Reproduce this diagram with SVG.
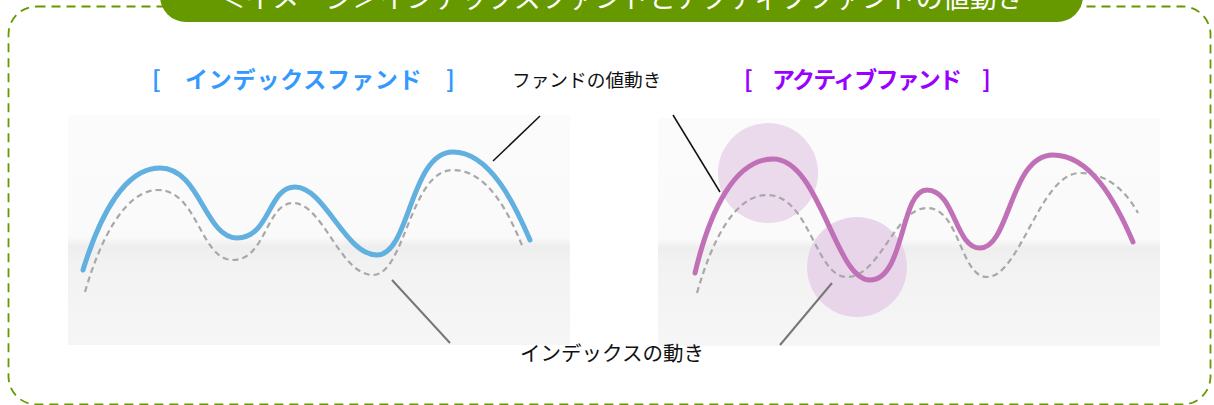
<svg xmlns="http://www.w3.org/2000/svg" width="1214" height="405" viewBox="0 0 1214 405">
  <style>
    .jp { font-family: "Noto Sans CJK JP", "Noto Sans", sans-serif; }
    .ttl { font-size: 23px; font-weight: bold; }
    .lbl { fill: #111111; }
    .dash { fill: none; stroke: #a8a8a8; stroke-width: 2.2; stroke-dasharray: 6 4; }
    .lead { fill: none; stroke: #111111; stroke-width: 1.5; }
    .leadg { fill: none; stroke: #777777; stroke-width: 2; }
  </style>
  <defs>
    <linearGradient id="panelbg" x1="0" y1="0" x2="0" y2="1">
      <stop offset="0" stop-color="#fbfbfb"/>
      <stop offset="0.53" stop-color="#fafafa"/>
      <stop offset="0.57" stop-color="#eeeeee"/>
      <stop offset="0.64" stop-color="#f2f2f2"/>
      <stop offset="1" stop-color="#f6f6f6"/>
    </linearGradient>
  </defs>
  <rect width="1214" height="405" fill="#ffffff"/>

  <g id="frame">
    <rect x="8.5" y="6.5" width="1202" height="398" rx="28" ry="28" fill="none" stroke="#669900" stroke-width="1.8" stroke-dasharray="9 6"/>
  </g>

  <g id="title">
    <rect x="160" y="-40" width="923" height="62" rx="26" ry="26" fill="#669900"/>
    <text class="jp" x="621" y="8" font-size="27" fill="#ffffff" text-anchor="middle">＜イメージ＞インデックスファンドとアクティブファンドの値動き</text>
  </g>

  <g id="index-panel">
    <rect x="68" y="115" width="502" height="230" fill="url(#panelbg)"/>
    <path class="dash" d="M85,292 C100,240 125,190 158,190 C198,190 200,260 233,260 C266,260 266,203 293,203 C323,203 340,275 373,275 C405,275 410,170 453,170 C488,170 510,215 523,248"/>
    <path d="M83,270 C100,215 125,168 160,168 C200,168 205,238 237,238 C270,238 268,187 295,187 C325,187 345,255 377,255 C410,255 410,152 453,152 C490,152 515,205 530,240" fill="none" stroke="#62b0df" stroke-width="5" stroke-linecap="round"/>
  </g>

  <g id="active-panel">
    <rect x="658" y="118" width="502" height="228" fill="url(#panelbg)"/>
    <circle cx="768" cy="173" r="50" fill="#ebd9ec"/>
    <circle cx="857" cy="267" r="50" fill="#e8d5ea"/>
    <path class="dash" d="M697,293 C712,240 735,195 767,195 C810,195 815,277 847,277 C880,277 895,208 927,208 C960,208 960,277 987,277 C1020,277 1040,173 1080,173 C1110,173 1128,195 1138,213"/>
    <path d="M695,273 C710,210 735,159 773,159 C820,159 835,280 870,280 C905,280 900,190 927,190 C955,190 955,248 980,248 C1010,248 1010,155 1053,155 C1090,155 1115,200 1133,242" fill="none" stroke="#c070b6" stroke-width="5" stroke-linecap="round"/>
  </g>

  <g id="index-title">
    <text class="jp ttl" x="152" y="88" fill="#3399ff">[</text>
    <text class="jp ttl" x="185" y="88" fill="#3399ff" letter-spacing="0.8">インデックスファンド</text>
    <text class="jp ttl" x="446" y="88" fill="#3399ff">]</text>
  </g>

  <g id="active-title">
    <text class="jp ttl" x="744" y="88" fill="#9900ff">[</text>
    <text class="jp ttl" x="772" y="88" fill="#9900ff" letter-spacing="-1.8">アクティブファンド</text>
    <text class="jp ttl" x="982" y="88" fill="#9900ff">]</text>
  </g>

  <g id="fund-label">
    <text class="jp lbl" x="512" y="87" font-size="18.7">ファンドの値動き</text>
  </g>

  <g id="index-label">
    <text class="jp lbl" x="520" y="361" font-size="20.5">インデックスの動き</text>
  </g>

  <g id="connectors">
    <line class="lead" x1="493" y1="161" x2="540" y2="116"/>
    <line class="lead" x1="673" y1="115" x2="720" y2="192"/>
    <line class="leadg" x1="392" y1="280" x2="450" y2="343"/>
    <line class="leadg" x1="832" y1="283" x2="780" y2="345"/>
  </g>
</svg>
